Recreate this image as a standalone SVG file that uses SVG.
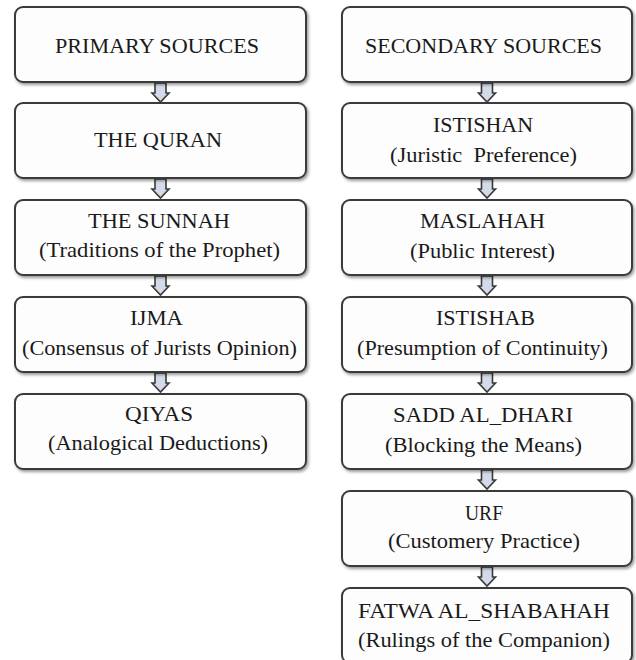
<svg xmlns="http://www.w3.org/2000/svg" width="636" height="660" viewBox="0 0 636 660">
<style>
.box{fill:#fdfdfd;stroke:#3a3a3a;stroke-width:2;filter:url(#sh)}
.t{font-family:'Liberation Serif','Times New Roman',serif;font-size:22px;fill:#1a1a1a;text-anchor:middle}
.arr{fill:#d4dbe8;stroke:#3a3a3a;stroke-width:1.6;stroke-linejoin:miter}
</style>
<defs>
<filter id="sh" x="-5%" y="-10%" width="112%" height="125%">
<feDropShadow dx="1.5" dy="2" stdDeviation="1.5" flood-color="#000" flood-opacity="0.4"/>
</filter>
<path id="a" class="arr" d="M-5.5,0 H5.5 V10 H8.5 L0,19 L-8.5,10 H-5.5 Z"/>
</defs>
<rect width="636" height="660" fill="#ffffff"/>
<g id="connectors">
<use href="#a" x="160.5" y="83"/>
<use href="#a" x="160.5" y="179"/>
<use href="#a" x="160.5" y="276"/>
<use href="#a" x="160.5" y="373"/>
<use href="#a" x="487" y="83"/>
<use href="#a" x="487" y="179"/>
<use href="#a" x="487" y="276"/>
<use href="#a" x="487" y="373"/>
<use href="#a" x="487" y="470"/>
<use href="#a" x="487" y="567"/>
</g>
<g id="primary">
<rect class="box" x="15" y="7" width="291" height="75" rx="8"/>
<text class="t" x="157" y="53" textLength="204" lengthAdjust="spacingAndGlyphs">PRIMARY SOURCES</text>
</g>
<g id="quran">
<rect class="box" x="15" y="103" width="291" height="75" rx="8"/>
<text class="t" x="158" y="147" textLength="128" lengthAdjust="spacingAndGlyphs">THE QURAN</text>
</g>
<g id="sunnah">
<rect class="box" x="15" y="200" width="291" height="75" rx="8"/>
<text class="t" x="159" y="228" textLength="142" lengthAdjust="spacingAndGlyphs">THE SUNNAH</text>
<text class="t" x="159.5" y="257" textLength="241" lengthAdjust="spacingAndGlyphs">(Traditions of the Prophet)</text>
</g>
<g id="ijma">
<rect class="box" x="15" y="297" width="291" height="75" rx="8"/>
<text class="t" x="156.5" y="325" textLength="53" lengthAdjust="spacingAndGlyphs">IJMA</text>
<text class="t" x="159.5" y="355" textLength="275" lengthAdjust="spacingAndGlyphs">(Consensus of Jurists Opinion)</text>
</g>
<g id="qiyas">
<rect class="box" x="15" y="394" width="291" height="75" rx="8"/>
<text class="t" x="159" y="421" textLength="68" lengthAdjust="spacingAndGlyphs">QIYAS</text>
<text class="t" x="158" y="450" textLength="220" lengthAdjust="spacingAndGlyphs">(Analogical Deductions)</text>
</g>
<g id="secondary">
<rect class="box" x="342" y="7" width="290" height="75" rx="8"/>
<text class="t" x="483.5" y="53" textLength="237" lengthAdjust="spacingAndGlyphs">SECONDARY SOURCES</text>
</g>
<g id="istishan">
<rect class="box" x="342" y="103" width="290" height="75" rx="8"/>
<text class="t" x="483" y="132" textLength="100" lengthAdjust="spacingAndGlyphs">ISTISHAN</text>
<text class="t" x="483.5" y="162" textLength="187" lengthAdjust="spacingAndGlyphs" xml:space="preserve">(Juristic  Preference)</text>
</g>
<g id="maslahah">
<rect class="box" x="342" y="200" width="290" height="75" rx="8"/>
<text class="t" x="482.5" y="228" textLength="125" lengthAdjust="spacingAndGlyphs">MASLAHAH</text>
<text class="t" x="482.5" y="258" textLength="145" lengthAdjust="spacingAndGlyphs">(Public Interest)</text>
</g>
<g id="istishab">
<rect class="box" x="342" y="297" width="290" height="75" rx="8"/>
<text class="t" x="485.5" y="325" textLength="99" lengthAdjust="spacingAndGlyphs">ISTISHAB</text>
<text class="t" x="482.5" y="355" textLength="251" lengthAdjust="spacingAndGlyphs">(Presumption of Continuity)</text>
</g>
<g id="sadd">
<rect class="box" x="342" y="394" width="290" height="75" rx="8"/>
<text class="t" x="483" y="422" textLength="180" lengthAdjust="spacingAndGlyphs">SADD AL_DHARI</text>
<text class="t" x="483.5" y="452" textLength="197" lengthAdjust="spacingAndGlyphs">(Blocking the Means)</text>
</g>
<g id="urf">
<rect class="box" x="342" y="491" width="290" height="75" rx="8"/>
<text class="t" x="484" y="520" textLength="38" lengthAdjust="spacingAndGlyphs">URF</text>
<text class="t" x="484" y="548" textLength="192" lengthAdjust="spacingAndGlyphs">(Customery Practice)</text>
</g>
<g id="fatwa">
<rect class="box" x="342" y="588" width="290" height="75" rx="8"/>
<text class="t" x="484" y="618" textLength="252" lengthAdjust="spacingAndGlyphs">FATWA AL_SHABAHAH</text>
<text class="t" x="484" y="647" textLength="252" lengthAdjust="spacingAndGlyphs">(Rulings of the Companion)</text>
</g>
</svg>
